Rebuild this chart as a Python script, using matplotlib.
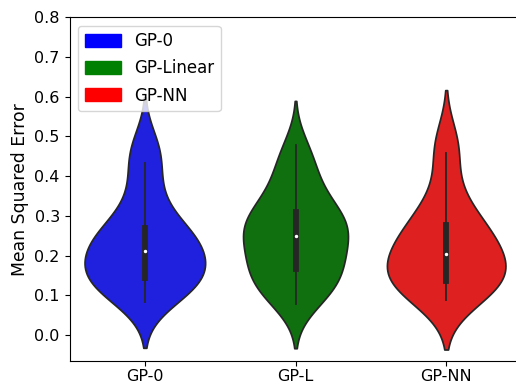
import warnings

import matplotlib
matplotlib.use("Agg")
import matplotlib.pyplot as plt
import matplotlib.patches as mpatches
import numpy as np
import pandas as pd
import seaborn as sns

warnings.filterwarnings("ignore")

# Model names on the x axis and in the legend
models = ["GP-0", "GP-L", "GP-NN"]
legend_labels = ["GP-0", "GP-Linear", "GP-NN"]
colors = ["blue", "green", "red"]

# Per-run mean squared error for each model
mse_gp0 = [0.084, 0.100, 0.113, 0.124, 0.132, 0.138, 0.142, 0.146, 0.160, 0.173,
           0.185, 0.197, 0.207, 0.217, 0.228, 0.238, 0.248, 0.257, 0.264, 0.272,
           0.308, 0.345, 0.378, 0.432, 0.462, 0.482]
mse_gpl = [0.077, 0.092, 0.105, 0.117, 0.128, 0.140, 0.152, 0.164, 0.172, 0.182,
           0.195, 0.208, 0.222, 0.235, 0.244, 0.252, 0.262, 0.272, 0.282, 0.290,
           0.297, 0.302, 0.311, 0.335, 0.352, 0.372, 0.398, 0.425, 0.452, 0.479]
mse_gpnn = [0.088, 0.105, 0.118, 0.128, 0.134, 0.138, 0.155, 0.170, 0.182, 0.196,
            0.212, 0.226, 0.240, 0.256, 0.274, 0.290, 0.322, 0.370, 0.458, 0.492]

y_ticks = [0.0, 0.1, 0.2, 0.3, 0.4, 0.5, 0.6, 0.7, 0.8]

groups = [mse_gp0, mse_gpl, mse_gpnn]
df = pd.DataFrame({
    "model": np.repeat(models, [len(g) for g in groups]),
    "mse": np.concatenate(groups),
})

fig = plt.figure(figsize=(5.16, 3.86), dpi=100)
ax = fig.add_axes([0.1347, 0.0648, 0.876, 0.8904])

# Equal-area violins, scaled against the densest one
sns.violinplot(data=df, x="model", y="mse", order=models, palette=colors, ax=ax,
               common_norm=True,
               inner_kws=dict(box_width=4.2, whis_width=1.3, marker="o",
                              markersize=1.6))

ax.set_ylim(-0.0655, 0.8)
ax.set_yticks(y_ticks)
ax.set_yticklabels([f"{t:.1f}" for t in y_ticks])
ax.set_xlim(-0.5, 2.5)
ax.set_xlabel("")
ax.set_ylabel("Mean Squared Error", fontsize=12.4)
ax.tick_params(axis="y", labelsize=11.5)
ax.tick_params(axis="x", labelsize=11.5, pad=2.5)

handles = [mpatches.Patch(color=c, label=l) for c, l in zip(colors, legend_labels)]
ax.legend(handles=handles, loc="upper left", fontsize=12,
          handlelength=2.16, handleheight=0.8, labelspacing=0.55)

fig.savefig("out.png", dpi=100)
